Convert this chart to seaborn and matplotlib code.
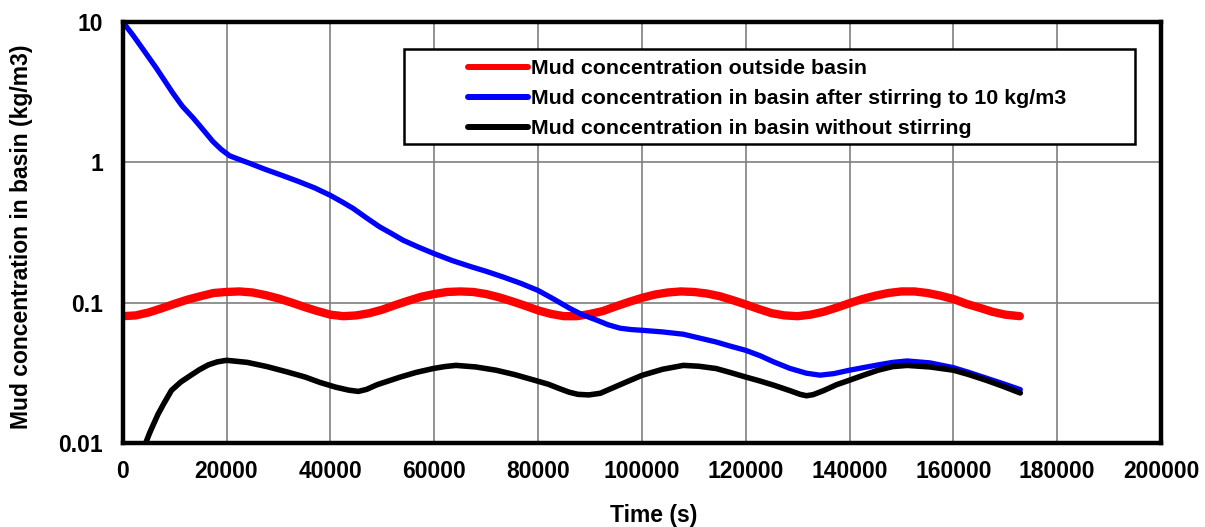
import matplotlib
matplotlib.use("Agg")
import matplotlib.pyplot as plt
import seaborn as sns
import pandas as pd

# data (time in s, concentration in kg/m3)
red_t = [0, 2500, 5000, 7500, 10000, 12500, 15000, 17500, 20000, 22500,
         25000, 27500, 30000, 32500, 35000, 37500, 40000, 42500, 45000, 47500,
         50000, 52500, 55000, 57500, 60000, 62500, 65000, 67500, 70000, 72500,
         75000, 77500, 80000, 82500, 85000, 87500, 90000, 92500, 95000, 97500,
         100000, 102500, 105000, 107500, 110000, 112500, 115000, 117500, 120000, 122500,
         125000, 127500, 130000, 132500, 135000, 137500, 140000, 142500, 145000, 147500,
         150000, 152500, 155000, 157500, 160000, 162500, 165000, 167500, 170000, 172800]
red_c = [0.080, 0.081, 0.085, 0.091, 0.098, 0.105, 0.111, 0.117, 0.119, 0.120,
         0.118, 0.113, 0.107, 0.100, 0.093, 0.087, 0.082, 0.080, 0.081, 0.084,
         0.089, 0.096, 0.103, 0.110, 0.115, 0.119, 0.120, 0.119, 0.115, 0.109,
         0.102, 0.095, 0.088, 0.083, 0.080, 0.080, 0.083, 0.087, 0.094, 0.101,
         0.108, 0.114, 0.118, 0.120, 0.119, 0.116, 0.111, 0.104, 0.097, 0.090,
         0.084, 0.081, 0.080, 0.082, 0.086, 0.092, 0.099, 0.106, 0.112, 0.117,
         0.120, 0.120, 0.117, 0.112, 0.106, 0.098, 0.092, 0.086, 0.082, 0.080]

blue_t = [0, 2000, 4000, 6500, 9700, 11500, 13600, 15500, 17400, 19000,
          20600, 22000, 24500, 27400, 30500, 33800, 37000, 40000, 42300, 44400,
          47000, 49500, 51800, 54000, 57000, 60000, 63500, 66900, 70000, 73300,
          76700, 80000, 83000, 86100, 88500, 91300, 93500, 95800, 98000, 100000,
          104000, 108000, 111000, 114300, 117000, 120000, 122800, 125400, 128500, 131700,
          134300, 137000, 140000, 142800, 145500, 148300, 151100, 155500, 160000, 163000,
          166300, 169500, 172900]
blue_c = [10.0, 8.0, 6.3, 4.66, 3.09, 2.5, 2.06, 1.70, 1.40, 1.23,
          1.11, 1.06, 0.98, 0.89, 0.81, 0.73, 0.655, 0.58, 0.52, 0.468,
          0.40, 0.346, 0.31, 0.278, 0.248, 0.223, 0.199, 0.181, 0.167, 0.152,
          0.137, 0.122, 0.106, 0.091, 0.082, 0.075, 0.0695, 0.0657, 0.0642, 0.0635,
          0.0618, 0.0595, 0.056, 0.0524, 0.049, 0.0457, 0.0418, 0.0378, 0.034, 0.0314,
          0.0304, 0.0312, 0.033, 0.0345, 0.036, 0.0375, 0.0384, 0.0372, 0.0344, 0.0318,
          0.029, 0.0265, 0.024]

black_t = [4200, 5200, 5700, 6800, 7900, 9400, 11200, 13100, 14800, 16500,
           18200, 20000, 24000, 27800, 31500, 35150, 38000, 41000, 43500, 45400,
           47000, 49000, 53500, 56500, 59800, 62000, 64200, 68000, 71900, 75500,
           79300, 82000, 84000, 86000, 87700, 89800, 92000, 96000, 100000, 104000,
           108000, 111000, 114300, 117000, 120000, 122800, 125400, 128500, 130500, 131700,
           133000, 135000, 137500, 140000, 142800, 145500, 148300, 151100, 155500, 160000,
           163000, 166300, 169500, 172900]
black_c = [0.0095, 0.0118, 0.013, 0.016, 0.019, 0.0237, 0.0272, 0.0303, 0.0333, 0.036,
           0.0378, 0.0388, 0.0375, 0.035, 0.0322, 0.0295, 0.027, 0.025, 0.0238, 0.0233,
           0.0241, 0.026, 0.0295, 0.0318, 0.0339, 0.035, 0.0357, 0.0348, 0.033, 0.0307,
           0.028, 0.0262, 0.0245, 0.0230, 0.0222, 0.0220, 0.0226, 0.0262, 0.0303, 0.0335,
           0.0357, 0.0352, 0.0339, 0.0318, 0.0295, 0.0276, 0.0258, 0.0236, 0.0222, 0.0217,
           0.0221, 0.0236, 0.026, 0.028, 0.0305, 0.033, 0.035, 0.0357, 0.0348, 0.033,
           0.0307, 0.028, 0.0254, 0.0227]

labels = ["Mud concentration outside basin",
          "Mud concentration in basin after stirring to 10 kg/m3",
          "Mud concentration in basin without stirring"]
colors = ["#ff0000", "#0000ff", "#000000"]
widths = [6.0, 3.8, 4.0]

x_ticks = list(range(0, 200001, 20000))
y_ticks = [0.01, 0.1, 1, 10]
y_tick_labels = ["0.01", "0.1", "1", "10"]

# %% plot
sns.set_style("white")
plt.rcParams["font.family"] = ["Liberation Sans", "DejaVu Sans"]
plt.rcParams["font.weight"] = "bold"
plt.rcParams["text.color"] = "black"
plt.rcParams["xtick.color"] = "black"
plt.rcParams["ytick.color"] = "black"
plt.rcParams["axes.labelcolor"] = "black"

fig = plt.figure(figsize=(12.05, 5.27), dpi=100)
ax = fig.add_axes([0.1018, 0.1594, 0.8617, 0.7994])

series = [(red_t, red_c), (blue_t, blue_c), (black_t, black_c)]
for (t, c), lab, col, lw in zip(series, labels, colors, widths):
    df = pd.DataFrame({"Time": t, "Conc": c})
    sns.lineplot(data=df, x="Time", y="Conc", ax=ax, color=col, linewidth=lw,
                 label=lab, solid_capstyle="round", solid_joinstyle="round", sort=False)

ax.set_yscale("log")
ax.set_xlim(0, 200000)
ax.set_ylim(0.01, 10)
ax.set_xticks(x_ticks)
ax.set_xticklabels([str(v) for v in x_ticks])
ax.set_yticks(y_ticks)
ax.set_yticklabels(y_tick_labels)
ax.minorticks_off()
ax.tick_params(axis="both", which="major", direction="out", length=5, width=1,
               color="#404040", labelsize=16.5, labelcolor="black")
ax.tick_params(axis="x", pad=7)
ax.tick_params(axis="y", pad=9)

ax.grid(True, color="#7f7f7f", linewidth=1.2)
ax.set_axisbelow(True)
for sp in ax.spines.values():
    sp.set_visible(True)
    sp.set_color("black")
    sp.set_linewidth(3.2)

ax.set_xlabel("Time (s)", fontsize=16.5, fontweight="bold")
ax.set_ylabel("Mud concentration in basin (kg/m3)", fontsize=16.5, fontweight="bold")
ax.xaxis.set_label_coords(0.511, -0.145)
ax.yaxis.set_label_coords(-0.086, 0.489)

# legend box drawn as its own rectangle, entries placed inside it
box = plt.Rectangle((0.271, 0.71), 0.704, 0.225, transform=ax.transAxes,
                    facecolor="white", edgecolor="black", linewidth=1.8, zorder=5)
ax.add_patch(box)
leg = ax.legend(loc="upper left", bbox_to_anchor=(0.333, 0.911), frameon=False,
                fontsize=15.4, handlelength=2.8, handletextpad=0.12,
                labelspacing=0.52, borderpad=0, borderaxespad=0)
leg.set_zorder(6)
for h in leg.get_lines():
    h.set_linewidth(4.3)

fig.savefig("out.png", dpi=100)
